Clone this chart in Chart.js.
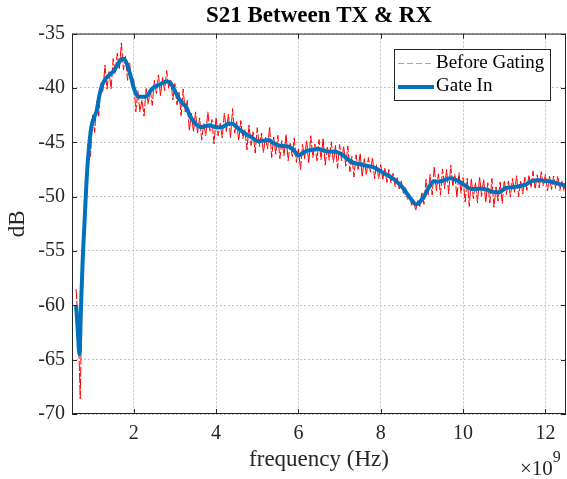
<!DOCTYPE html>
<html>
<head>
<meta charset="utf-8">
<script src="https://cdn.jsdelivr.net/npm/chart.js@4.4.0/dist/chart.umd.min.js"></script>
<style>
  html, body { margin: 0; padding: 0; background: #fff; }
</style>
</head>
<body>
<canvas id="myChart" width="567" height="479"></canvas>
<script>
// Gate In (smooth curve), frequency in GHz (axis shows x10^9)
const gateFreq = [0.60, 0.64, 0.68, 0.72, 0.76, 0.80, 0.85, 0.90, 0.97, 1.05, 1.10, 1.15, 1.21, 1.29, 1.41, 1.50,
  1.57, 1.65, 1.72, 1.80, 1.87, 1.94, 2.00, 2.06, 2.12, 2.20, 2.28, 2.35, 2.42, 2.50, 2.63, 2.72, 2.80, 2.88,
  2.95, 3.03, 3.10, 3.16, 3.28, 3.37, 3.48, 3.56, 3.64, 3.75, 3.86, 3.98, 4.10, 4.20, 4.30, 4.39, 4.50, 4.63,
  4.75, 4.85, 4.95, 5.04, 5.15, 5.28, 5.40, 5.52, 5.65, 5.77, 5.88, 5.96, 6.02, 6.10, 6.21, 6.33, 6.46, 6.58,
  6.70, 6.82, 6.94, 7.05, 7.15, 7.25, 7.35, 7.47, 7.59, 7.71, 7.83, 7.95, 8.08, 8.20, 8.32, 8.44, 8.56, 8.65,
  8.73, 8.80, 8.85, 8.91, 8.97, 9.05, 9.13, 9.21, 9.29, 9.40, 9.50, 9.60, 9.70, 9.82, 9.94, 10.06, 10.19, 10.31,
  10.43, 10.55, 10.67, 10.78, 10.88, 10.96, 11.04, 11.16, 11.28, 11.40, 11.52, 11.60, 11.69, 11.80, 11.90, 11.97,
  12.10, 12.21, 12.35, 12.50];
const gateDb = [-60.0, -62.3, -64.5, -60.0, -55.8, -52.7, -48.8, -46.0, -43.6, -42.6, -42.1, -41.0, -40.0, -39.3, -38.8, -38.5,
  -38.1, -37.6, -37.3, -37.5, -38.2, -39.1, -40.0, -40.6, -40.8, -40.8, -40.8, -40.6, -40.2, -39.9, -39.7, -39.5, -39.4, -39.5,
  -39.9, -40.5, -41.0, -41.3, -41.8, -42.6, -43.2, -43.5, -43.6, -43.5, -43.45, -43.6, -43.65, -43.5, -43.3, -43.3, -43.6, -44.0,
  -44.3, -44.5, -44.8, -44.9, -44.85, -44.8, -45.1, -45.3, -45.35, -45.4, -45.7, -46.1, -46.2, -46.0, -45.8, -45.7, -45.6, -45.7,
  -45.85, -45.85, -45.9, -46.1, -46.4, -46.7, -46.9, -47.0, -47.1, -47.2, -47.3, -47.55, -47.85, -48.1, -48.4, -48.8, -49.3, -49.8,
  -50.2, -50.55, -50.7, -50.65, -50.4, -50.0, -49.4, -48.9, -48.6, -48.6, -48.55, -48.4, -48.3, -48.45, -48.7, -49.0, -49.3, -49.3,
  -49.25, -49.35, -49.5, -49.6, -49.6, -49.4, -49.2, -49.15, -49.1, -49.0, -48.9, -48.7, -48.55, -48.5, -48.5, -48.55,
  -48.6, -48.7, -48.85, -49.0];

// Before Gating (raw sweep), sampled every 0.05 GHz from 0.60 GHz
const rawStart = 0.60;
const rawStep = 0.05;
const rawDb = [
  -58.5, -61.8, -68.6, -57.5, -51.5, -49.6, -45.2, -46.3, -42.4, -44.1,
  -41.2, -42.6, -39.6, -40.4, -37.9, -40.1, -38.5, -40.1, -37.3, -38.7,
  -36.8, -38.3, -35.85, -38.35, -37.1, -39.3, -37.7, -39.8, -39.2, -42.2,
  -40.25, -42.2, -41.1, -42.6, -40.05, -41.5, -40.1, -41.6, -39.3, -40.5,
  -38.8, -40.75, -39.05, -40.25, -38.4, -40.05, -39.3, -41.1, -39.6, -41.55,
  -40.4, -42.55, -40.1, -42.2, -41.15, -43.95, -42.35, -44.05, -42.2, -44.15,
  -42.75, -44.8, -43.25, -44.4, -42.2, -43.95, -42.9, -45.15, -42.7, -44.4,
  -43.25, -44.6, -42.3, -44.0, -42.4, -44.6, -41.9, -44.15, -43.1, -44.85,
  -43.0, -44.65, -43.8, -45.7, -43.4, -45.3, -44.05, -46.0, -43.65, -45.4,
  -44.15, -45.95, -44.55, -45.6, -43.55, -46.4, -44.5, -46.1, -44.35, -46.5,
  -44.85, -46.25, -44.25, -46.7, -45.1, -46.3, -44.6, -46.85, -45.6, -47.5,
  -45.2, -46.5, -44.8, -46.95, -44.4, -46.4, -45.15, -46.7, -44.75, -46.6,
  -44.6, -47.1, -45.45, -46.65, -44.95, -46.85, -45.3, -47.4, -45.2, -46.7,
  -45.35, -47.2, -45.35, -47.7, -46.3, -48.2, -46.15, -47.5, -46.0, -48.2,
  -46.5, -48.05, -46.4, -47.75, -46.4, -48.35, -47.05, -48.35, -47.05, -48.4,
  -47.4, -48.7, -47.5, -48.75, -47.85, -49.1, -48.25, -49.3, -48.55, -49.7,
  -49.1, -50.3, -49.75, -50.8, -50.25, -51.3, -50.27, -50.9, -49.65, -50.7,
  -48.4, -49.85, -47.95, -49.85, -47.2, -49.5, -47.9, -49.87, -47.45, -49.27,
  -47.5, -49.75, -47.1, -49.07, -47.93, -50.1, -47.8, -49.7, -48.25, -50.5,
  -48.3, -50.9, -48.3, -50.2, -48.7, -50.58, -48.16, -49.97, -48.4, -50.55,
  -48.72, -50.58, -48.33, -50.98, -49.1, -50.4, -48.65, -50.62, -48.5, -49.8,
  -48.57, -50.05, -48.33, -49.6, -48.08, -50.04, -48.5, -49.76, -48.22, -49.42,
  -48.0, -49.2, -47.65, -49.32, -48.0, -49.2, -47.7, -49.03, -47.96, -49.48,
  -48.1, -49.35, -48.1, -49.25, -48.1, -49.45, -48.5, -49.45, -48.7
];

const xTicks = [2, 4, 6, 8, 10, 12];
const yTicks = [-70, -65, -60, -55, -50, -45, -40, -35];
const seriesNames = ['Before Gating', 'Gate In'];

const serif = "'Liberation Serif', 'Times New Roman', serif";
const ink = '#262626';

const rawPoints = rawDb.map((d, i) => ({ x: rawStart + i * rawStep, y: d }));
const gatePoints = gateFreq.map((f, i) => ({ x: f, y: gateDb[i] }));

// box, inward ticks, legend and the x10^9 exponent, matlab style
const framePlugin = {
  id: 'frame',
  afterDraw(chart) {
    const { ctx, chartArea: a, scales } = chart;
    ctx.save();
    ctx.strokeStyle = ink;
    ctx.lineWidth = 1;
    ctx.setLineDash([]);
    ctx.strokeRect(a.left + 0.5, a.top + 0.5, a.right - a.left - 1, a.bottom - a.top - 1);
    ctx.beginPath();
    xTicks.forEach(v => {
      const px = Math.round(scales.x.getPixelForValue(v)) + 0.5;
      ctx.moveTo(px, a.bottom); ctx.lineTo(px, a.bottom - 5);
      ctx.moveTo(px, a.top); ctx.lineTo(px, a.top + 5);
    });
    yTicks.forEach(v => {
      const py = Math.round(scales.y.getPixelForValue(v)) + 0.5;
      ctx.moveTo(a.left, py); ctx.lineTo(a.left + 5, py);
      ctx.moveTo(a.right, py); ctx.lineTo(a.right - 5, py);
    });
    ctx.stroke();

    // legend
    ctx.fillStyle = '#fff';
    ctx.fillRect(394.5, 49.5, 156, 51);
    ctx.strokeStyle = ink;
    ctx.strokeRect(394.5, 49.5, 156, 51);
    ctx.font = '19px ' + serif;
    ctx.textBaseline = 'middle';
    ctx.textAlign = 'left';
    ctx.fillStyle = '#000';

    ctx.strokeStyle = '#ff7f7f';
    ctx.lineWidth = 1;
    ctx.setLineDash([6, 3]);
    ctx.beginPath(); ctx.moveTo(398, 63.5); ctx.lineTo(434, 63.5); ctx.stroke();
    ctx.fillText(seriesNames[0], 436, 63);

    ctx.strokeStyle = '#0072BD';
    ctx.lineWidth = 4;
    ctx.setLineDash([]);
    ctx.beginPath(); ctx.moveTo(398, 87); ctx.lineTo(434, 87); ctx.stroke();
    ctx.fillText(seriesNames[1], 436, 86);

    // exponent
    ctx.fillStyle = ink;
    ctx.font = '21px ' + serif;
    ctx.fillText('\u00d710', 520, 469);
    const w = ctx.measureText('\u00d710').width;
    ctx.font = '16px ' + serif;
    ctx.fillText('9', 520 + w, 458);
    ctx.restore();
  }
};

const ctx = document.getElementById('myChart');
new Chart(ctx, {
  type: 'line',
  data: {
    datasets: [{
      label: seriesNames[0],
      data: rawPoints,
      borderColor: 'rgb(255,0,0)',
      borderWidth: 1,
      borderDash: [10, 2],
      pointRadius: 0,
      tension: 0,
      order: 2
    }, {
      label: seriesNames[1],
      data: gatePoints,
      borderColor: '#0072BD',
      borderWidth: 4,
      pointRadius: 0,
      cubicInterpolationMode: 'monotone',
      order: 1
    }]
  },
  options: {
    responsive: false,
    animation: false,
    devicePixelRatio: 1,
    layout: { padding: { left: 0, right: 1, top: 0, bottom: 0 } },
    plugins: {
      legend: { display: false },
      tooltip: { enabled: false },
      title: {
        display: true,
        fullSize: false,
        text: 'S21 Between TX & RX',
        color: '#000',
        font: { family: serif, size: 23, weight: 'bold' },
        padding: { top: 2, bottom: 4 }
      }
    },
    scales: {
      x: {
        type: 'linear',
        min: 0.5,
        max: 12.5,
        afterBuildTicks: s => { s.ticks = xTicks.map(v => ({ value: v })); },
        afterFit: s => { s.height = 65; },
        grid: { color: '#c4c4c4', lineWidth: 1, drawTicks: false },
        border: { display: false, dash: [2, 2] },
        ticks: {
          color: ink,
          font: { family: serif, size: 20 },
          padding: 8,
          maxRotation: 0,
          autoSkip: false,
          callback: v => String(v)
        },
        title: {
          display: true,
          text: 'frequency (Hz)',
          color: ink,
          font: { family: serif, size: 23 },
          padding: { top: 0, bottom: 5 }
        }
      },
      y: {
        min: -70,
        max: -35,
        afterBuildTicks: s => { s.ticks = yTicks.map(v => ({ value: v })); },
        afterFit: s => { s.width = 72; },
        grid: { color: '#c4c4c4', lineWidth: 1, drawTicks: false },
        border: { display: false, dash: [2, 2] },
        ticks: {
          color: ink,
          font: { family: serif, size: 20 },
          padding: 7,
          autoSkip: false,
          callback: v => String(v)
        },
        title: {
          display: true,
          text: 'dB',
          color: ink,
          font: { family: serif, size: 23 },
          padding: { top: 4, bottom: 0 }
        }
      }
    }
  },
  plugins: [framePlugin]
});
</script>
</body>
</html>
